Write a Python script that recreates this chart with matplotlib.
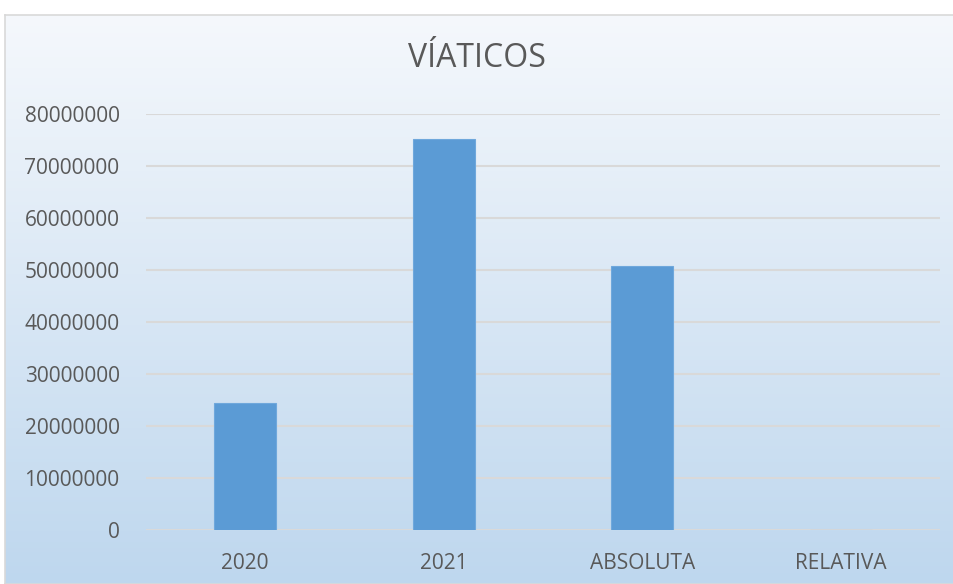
import numpy as np
import matplotlib.pyplot as plt

categories = ["2020", "2021", "ABSOLUTA", "RELATIVA"]
valores = [24400000, 75100000, 50700000, 2.08]
yticks = [0, 10000000, 20000000, 30000000, 40000000, 50000000, 60000000, 70000000, 80000000]

plt.rcParams['font.family'] = ['Open Sans', 'DejaVu Sans']

fig = plt.figure(figsize=(9.54, 5.84), dpi=100)

# fondo con degradado (estilo Excel)
bg = fig.add_axes([5 / 954, 0, 1 - 5 / 954, (584 - 15) / 584])
grad = np.linspace(0, 1, 256).reshape(-1, 1)
top = np.array([0xf5, 0xf8, 0xfc]) / 255
bottom = np.array([0xbe, 0xd7, 0xee]) / 255
img = top + (bottom - top) * grad[:, :, None]
bg.imshow(img, aspect='auto', extent=[0, 1, 0, 1], origin='upper')
bg.set_xticks([])
bg.set_yticks([])
for s in bg.spines.values():
    s.set_color('#d9d9d9')
    s.set_linewidth(1.2)

ax = fig.add_axes([146 / 954, 1 - 529.7 / 584, (940 - 146) / 954, (529.7 - 114) / 584])
ax.patch.set_alpha(0)
x = np.arange(len(categories))
ax.bar(x, valores, width=0.31, color='#5b9bd5', edgecolor='#6fa8dc', linewidth=0.8, zorder=3)
ax.set_xlim(-0.5, len(categories) - 0.5)
ax.set_ylim(0, 80000000)
ax.set_yticks(yticks)
ax.set_yticklabels([str(v) for v in yticks])
ax.set_xticks(x)
ax.set_xticklabels(categories)
ax.grid(axis='y', color='#d9d9d9', linewidth=1.5, zorder=0)
ax.set_axisbelow(True)
ax.tick_params(length=0, labelsize=15, labelcolor='#595959')
ax.tick_params(axis='y', pad=19)
ax.tick_params(axis='x', pad=17)
for s in ax.spines.values():
    s.set_visible(False)

fig.text(0.5, 1 - 58.7 / 584, "VÍATICOS", ha='center', va='center', fontsize=23, color='#595959')

fig.savefig("out.png", dpi=100)
